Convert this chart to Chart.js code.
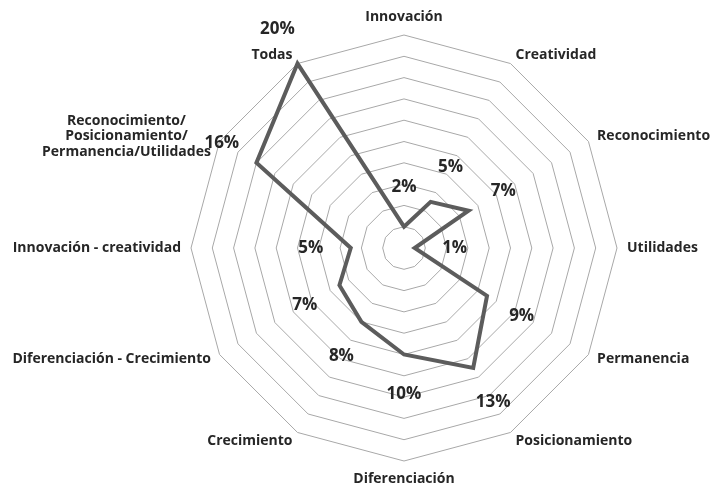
<!DOCTYPE html>
<html lang="es">
<head>
    <meta charset="UTF-8">
    <title>Radar</title>
    <script src="https://cdn.jsdelivr.net/npm/chart.js"></script>
    <style>
        html, body { margin: 0; padding: 0; background: #fff; }
        #wrap { width: 715px; height: 490px; }
    </style>
</head>
<body>
    <div id="wrap"><canvas id="radar"></canvas></div>
    <script>
        const categories = [
            'Innovación',
            'Creatividad',
            'Reconocimiento',
            'Utilidades',
            'Permanencia',
            'Posicionamiento',
            'Diferenciación',
            'Crecimiento',
            'Diferenciación - Crecimiento',
            'Innovación - creatividad',
            ['Reconocimiento/', 'Posicionamiento/', 'Permanencia/Utilidades'],
            'Todas'
        ];
        const percentages = [2, 5, 7, 1, 9, 13, 10, 8, 7, 5, 16, 20];

        const textFont = "'Open Sans', 'DejaVu Sans', sans-serif";
        const textColor = '#262626';

        // category names around the web (drawn by hand so the web keeps its size)
        const categoryLabels = {
            id: 'categoryLabels',
            afterDraw(chart) {
                const scale = chart.scales.r;
                const c = chart.ctx;
                const n = categories.length;
                const lineH = 15.5;
                c.save();
                c.font = `700 14px ${textFont}`;
                c.fillStyle = textColor;
                c.textBaseline = 'middle';
                categories.forEach((lab, i) => {
                    const lines = Array.isArray(lab) ? lab : [lab];
                    const deg = i * 360 / n;
                    const p = scale.getPointPosition(i, scale.drawingArea + 10);
                    const blockW = Math.max(...lines.map(l => c.measureText(l).width));
                    const blockH = lines.length * lineH;
                    let cx = p.x;
                    if (deg > 0 && deg < 180) cx = p.x + blockW / 2;
                    else if (deg > 180) cx = p.x - blockW / 2;
                    let top = p.y - blockH / 2;
                    if (deg === 0) top = p.y - blockH;
                    else if (deg === 180) top = p.y;
                    c.textAlign = 'center';
                    lines.forEach((l, k) => c.fillText(l, cx, top + lineH * (k + 0.5)));
                });
                c.restore();
            }
        };

        // value labels pushed outward from each point along its spoke
        const valueLabels = {
            id: 'valueLabels',
            afterDatasetsDraw(chart) {
                const scale = chart.scales.r;
                const c = chart.ctx;
                c.save();
                c.font = `700 17px ${textFont}`;
                c.fillStyle = textColor;
                c.textAlign = 'center';
                c.textBaseline = 'middle';
                percentages.forEach((v, i) => {
                    const d = scale.getDistanceFromCenterForValue(v) + 40;
                    const p = scale.getPointPosition(i, d);
                    c.fillText(v + '%', p.x, p.y);
                });
                c.restore();
            }
        };

        new Chart(document.getElementById('radar'), {
            type: 'radar',
            data: {
                labels: categories,
                datasets: [{
                    data: percentages,
                    borderColor: '#5c5c5c',
                    borderWidth: 4,
                    backgroundColor: 'transparent',
                    fill: false,
                    pointRadius: 0,
                    tension: 0
                }]
            },
            options: {
                responsive: true,
                maintainAspectRatio: false,
                animation: false,
                layout: { padding: { top: 35, bottom: 29, left: 191, right: 98 } },
                plugins: {
                    legend: { display: false },
                    tooltip: { enabled: false }
                },
                scales: {
                    r: {
                        min: 0,
                        max: 20,
                        ticks: { stepSize: 2, display: false },
                        angleLines: { display: false },
                        grid: { color: '#a8a8a8', lineWidth: 1 },
                        pointLabels: { display: false }
                    }
                }
            },
            plugins: [valueLabels, categoryLabels]
        });
    </script>
</body>
</html>
